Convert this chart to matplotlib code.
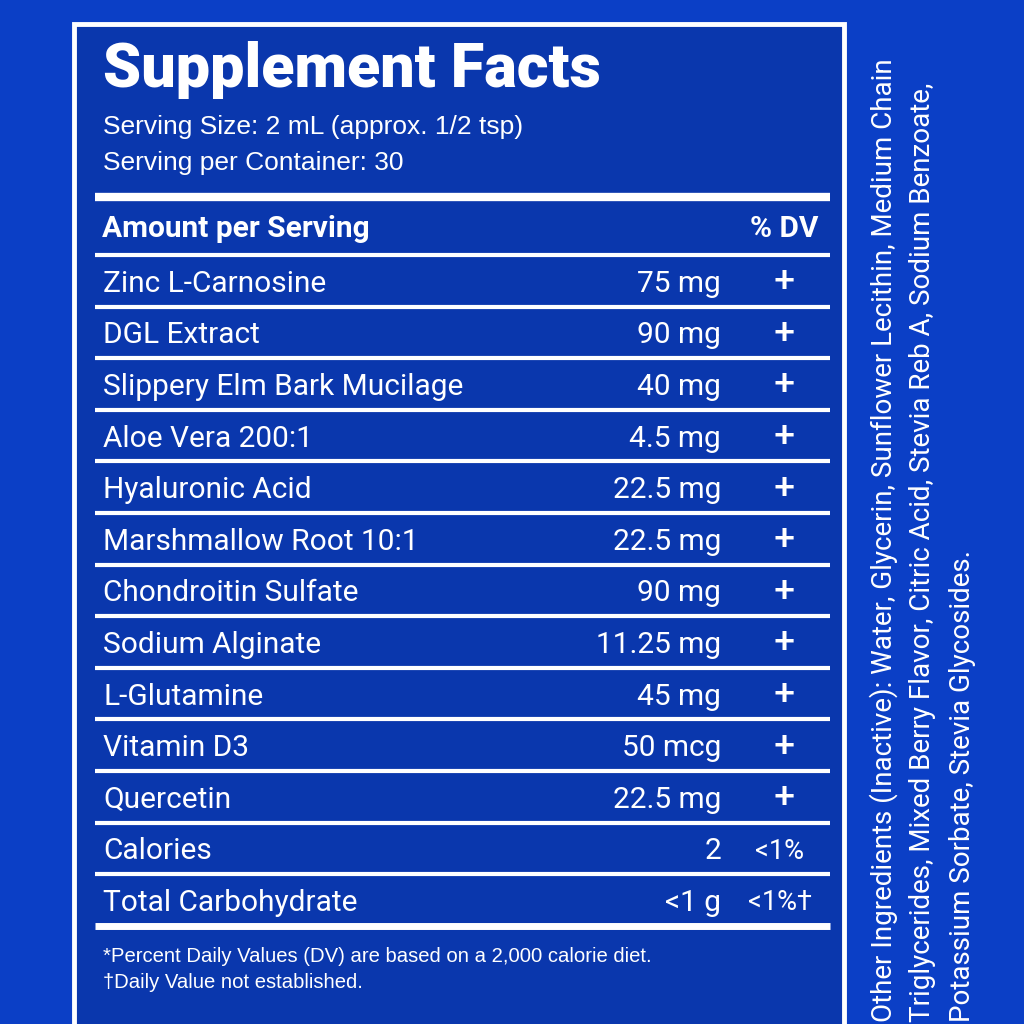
import matplotlib
matplotlib.use("Agg")
import matplotlib.pyplot as plt

# label data
ingredients = ["Zinc L-Carnosine", "DGL Extract", "Slippery Elm Bark Mucilage",
               "Aloe Vera 200:1", "Hyaluronic Acid", "Marshmallow Root 10:1",
               "Chondroitin Sulfate", "Sodium Alginate", "L-Glutamine",
               "Vitamin D3", "Quercetin", "Calories", "Total Carbohydrate"]
amounts = ["75 mg", "90 mg", "40 mg", "4.5 mg", "22.5 mg", "22.5 mg", "90 mg",
           "11.25 mg", "45 mg", "50 mcg", "22.5 mg", "2", "<1 g"]
dv = ["+"] * 11 + ["<1%", "<1%†"]
side_lines = ["Other Ingredients (Inactive): Water, Glycerin, Sunflower Lecithin, Medium Chain",
              "Triglycerides, Mixed Berry Flavor, Citric Acid, Stevia Reb A, Sodium Benzoate,",
              "Potassium Sorbate, Stevia Glycosides."]

BG = "#0b3fc6"
PANEL = "#0a37ad"
SANS = ["Liberation Sans", "DejaVu Sans"]
ROBO = ["Roboto", "DejaVu Sans"]

fig = plt.figure(figsize=(10.24, 10.24), dpi=100, facecolor=BG)
ax = fig.add_axes([0, 0, 1, 1])
ax.set_xlim(0, 1024)
ax.set_ylim(1024, 0)
ax.axis("off")

ax.add_patch(plt.Rectangle((74, 24), 770, 1010, facecolor=PANEL, edgecolor="white", lw=3.5))

ax.text(103, 70, "Supplement Facts", color="white", fontsize=44, fontweight="black",
        family=ROBO, va="center")
ax.text(103, 127, "Serving Size: 2 mL (approx. 1/2 tsp)", color="white", fontsize=19,
        family=SANS, va="center")
ax.text(103, 163, "Serving per Container: 30", color="white", fontsize=19,
        family=SANS, va="center")

ax.plot([95, 830], [197, 197], color="white", lw=6, solid_capstyle="butt")
ax.text(102, 229, "Amount per Serving", color="white", fontsize=21.5, fontweight="bold",
        family=ROBO, va="center")
ax.text(818, 229, "% DV", color="white", fontsize=21.5, fontweight="bold",
        family=ROBO, va="center", ha="right")

top = 255
step = 51.6
for i, (name, amt, d) in enumerate(zip(ingredients, amounts, dv)):
    y0 = top + i * step
    ax.plot([95, 830], [y0, y0], color="white", lw=3, solid_capstyle="butt")
    yc = y0 + step / 2 + 3
    ax.text(103, yc, name, color="white", fontsize=21.5, family=ROBO, va="center")
    ax.text(721, yc, amt, color="white", fontsize=21.5, family=ROBO, va="center", ha="right")
    if d == "+":
        ax.text(784, yc - 1, d, color="white", fontsize=26, fontweight="bold", family=SANS,
                va="center", ha="center")
    else:
        ax.text(780, yc, d, color="white", fontsize=19.5, family=ROBO, va="center", ha="center")
yend = top + len(ingredients) * step
ax.plot([95, 830], [yend, yend], color="white", lw=5, solid_capstyle="butt")

ax.text(103, 957, "*Percent Daily Values (DV) are based on a 2,000 calorie diet.",
        color="white", fontsize=14.6, family=SANS, va="center")
ax.text(103, 983, "†Daily Value not established.", color="white", fontsize=14.6,
        family=SANS, va="center")

for x, line in zip([884, 923, 962], side_lines):
    ax.text(x, 1022, line, color="white", fontsize=20, family=ROBO, rotation=90,
            va="center", ha="left", rotation_mode="anchor")

fig.savefig("out.png", dpi=100, facecolor=BG)
